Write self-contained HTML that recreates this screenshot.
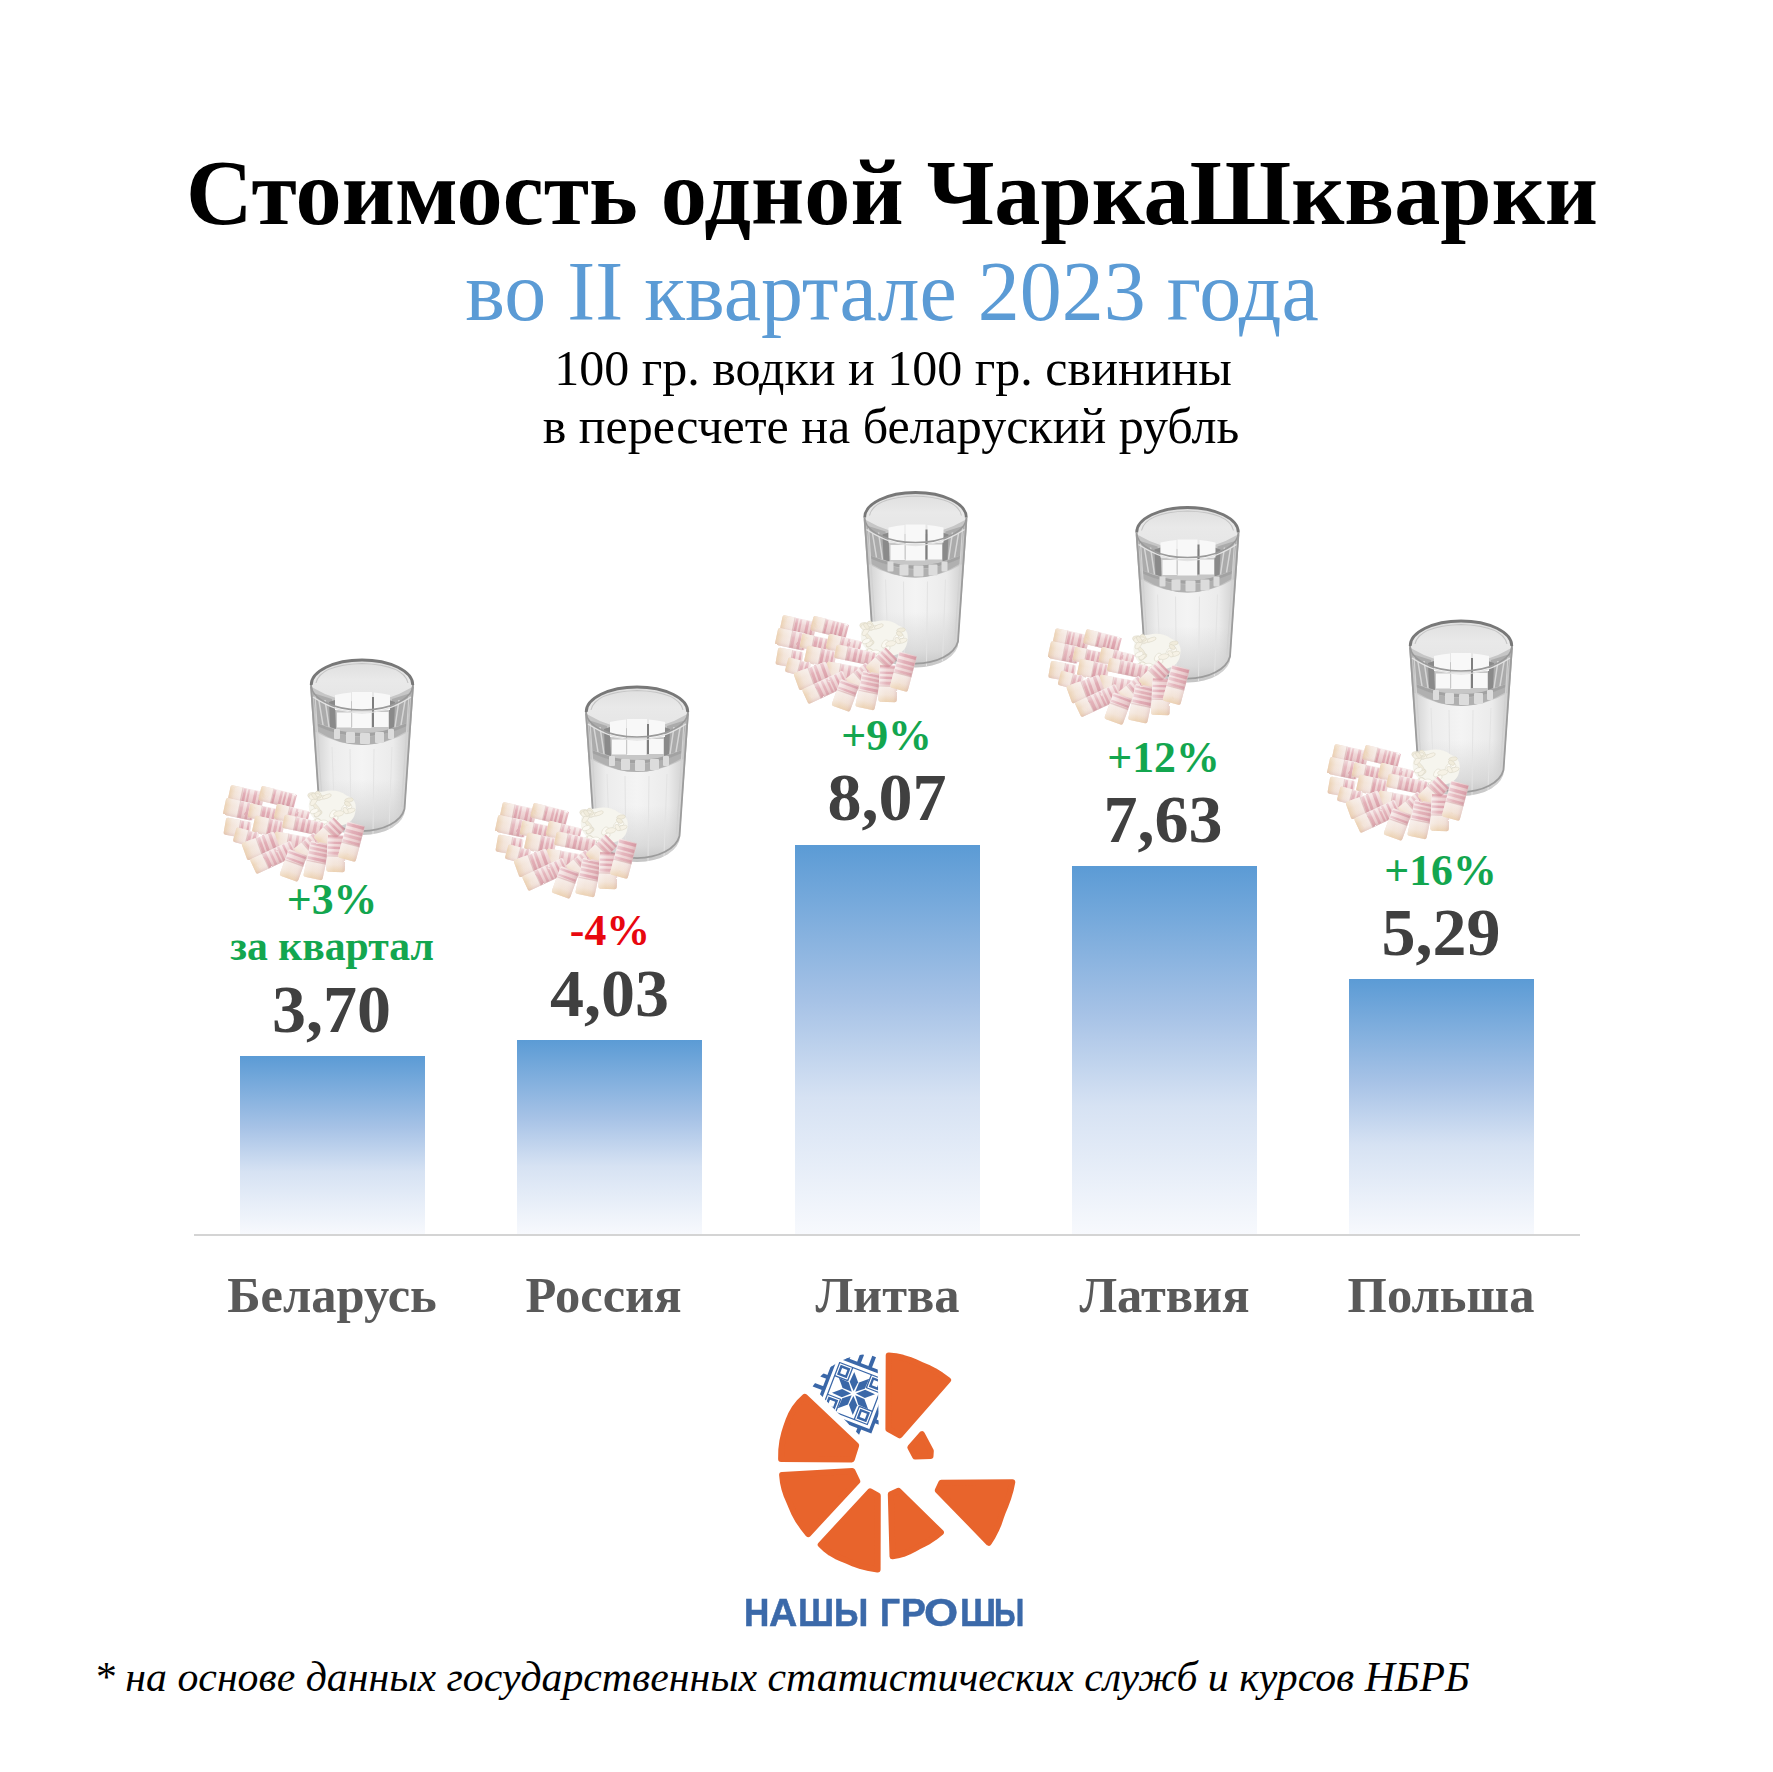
<!DOCTYPE html>
<html><head><meta charset="utf-8">
<style>
html,body{margin:0;padding:0;background:#fff;}
body{width:1773px;height:1772px;position:relative;overflow:hidden;font-family:"Liberation Serif",serif;}
.t{position:absolute;white-space:nowrap;line-height:1;}
.c{transform:translateX(-50%);}
.b{font-weight:bold;}
.bar{position:absolute;width:185px;bottom:538px;background:linear-gradient(#5b9bd5 0%,#a6c2e6 40%,#d6e2f3 65%,#f7f9fd 100%);}
.pct{font-size:43.8px;font-weight:bold;color:#13a64f;}
.val{font-size:68px;font-weight:bold;color:#404040;}
.lbl{font-size:50.5px;font-weight:bold;color:#595959;}
svg{position:absolute;left:0;top:0;}
.lg{top:1593px;font-family:"Liberation Sans",sans-serif;font-weight:bold;font-size:39px;color:#3b69a9;-webkit-text-stroke:0.5px #3b69a9;transform-origin:0 0;}
</style></head>
<body>
<div class="t b" style="left:186px;top:146.5px;font-size:92.3px;color:#000;">Стоимость одной ЧаркаШкварки</div>
<div class="t c" style="left:892px;top:250px;font-size:84px;color:#5b9bd5;">во II квартале 2023 года</div>
<div class="t c" style="left:893px;top:343px;font-size:50px;color:#000;">100 гр. водки и 100 гр. свинины</div>
<div class="t c" style="left:891px;top:401px;font-size:50px;color:#000;">в пересчете на беларуский рубль</div>

<div class="bar" style="left:240px;top:1056px;height:178px;"></div>
<div class="bar" style="left:517px;top:1040px;height:194px;"></div>
<div class="bar" style="left:795px;top:845px;height:389px;"></div>
<div class="bar" style="left:1072px;top:866px;height:368px;"></div>
<div class="bar" style="left:1349px;top:979px;height:255px;"></div>
<div style="position:absolute;left:194px;top:1234px;width:1386px;height:2px;background:#d4d4d4;"></div>

<div class="t c pct" style="left:332px;top:878px;">+3%</div>
<div class="t c pct" style="left:332px;top:926px;font-size:41.7px;">за квартал</div>
<div class="t c val" style="left:331.5px;top:975px;">3,70</div>
<div class="t c pct" style="left:610px;top:909px;color:#e8070f;">-4%</div>
<div class="t c val" style="left:609.5px;top:959px;">4,03</div>
<div class="t c pct" style="left:886.5px;top:714px;">+9%</div>
<div class="t c val" style="left:887px;top:763px;">8,07</div>
<div class="t c pct" style="left:1163.5px;top:735.5px;">+12%</div>
<div class="t c val" style="left:1163px;top:784.5px;">7,63</div>
<div class="t c pct" style="left:1440.5px;top:848.5px;">+16%</div>
<div class="t c val" style="left:1441px;top:898px;">5,29</div>

<div class="t c lbl" style="left:332px;top:1270px;">Беларусь</div>
<div class="t c lbl" style="left:603.5px;top:1270px;">Россия</div>
<div class="t c lbl" style="left:887.5px;top:1270px;">Литва</div>
<div class="t c lbl" style="left:1164.5px;top:1270px;">Латвия</div>
<div class="t c lbl" style="left:1441px;top:1270px;">Польша</div>

<div class="t" style="left:94px;top:1657px;font-size:41.8px;font-style:italic;color:#000;">* на основе данных государственных статистических служб и курсов НБРБ</div>

<div class="t lg" style="left:744.2px;transform:scaleX(0.900);">Н</div>
<div class="t lg" style="left:768.7px;transform:scaleX(1.004);">А</div>
<div class="t lg" style="left:797.7px;transform:scaleX(0.921);">Ш</div>
<div class="t lg" style="left:834.2px;transform:scaleX(0.897);">Ы</div>
<div class="t lg" style="left:879.9px;transform:scaleX(0.904);">Г</div>
<div class="t lg" style="left:900.9px;transform:scaleX(0.955);">Р</div>
<div class="t lg" style="left:924.4px;transform:scaleX(1.125);">О</div>
<div class="t lg" style="left:960.2px;transform:scaleX(0.921);">Ш</div>
<div class="t lg" style="left:994.3px;transform:scaleX(0.794);">Ы</div>

<svg width="1773" height="1772" viewBox="0 0 1773 1772"><defs>
<filter id="soft" x="-10%" y="-10%" width="120%" height="120%"><feGaussianBlur stdDeviation="0.7"/></filter>
<linearGradient id="gbody" x1="0" x2="1" y1="0" y2="0">
 <stop offset="0" stop-color="#a8a8a8"/><stop offset="0.06" stop-color="#d4d4d4"/><stop offset="0.2" stop-color="#ececec"/><stop offset="0.5" stop-color="#f4f4f4"/><stop offset="0.8" stop-color="#ebebeb"/><stop offset="0.94" stop-color="#d2d2d2"/><stop offset="1" stop-color="#a4a4a4"/>
</linearGradient>
<linearGradient id="gbot" x1="0" x2="0" y1="0" y2="1">
 <stop offset="0" stop-color="#c8c8c8" stop-opacity="0"/><stop offset="0.7" stop-color="#c8c8c8" stop-opacity="0.55"/><stop offset="1" stop-color="#b8b8b8" stop-opacity="0.8"/>
</linearGradient>
<linearGradient id="gtop" x1="0" x2="0" y1="0" y2="1">
 <stop offset="0" stop-color="#dedede"/><stop offset="0.4" stop-color="#e9e9e9"/><stop offset="1" stop-color="#e4e4e4"/>
</linearGradient>
<linearGradient id="bs0" gradientUnits="userSpaceOnUse" x1="0" y1="0" x2="12" y2="0" spreadMethod="repeat">
 <stop offset="0" stop-color="#d88a97" stop-opacity="0"/><stop offset="0.2" stop-color="#e2a4ad" stop-opacity="0.45"/><stop offset="0.45" stop-color="#d07a8a" stop-opacity="0.9"/><stop offset="0.62" stop-color="#e6b3ba" stop-opacity="0.6"/><stop offset="0.78" stop-color="#d88a97" stop-opacity="0.1"/><stop offset="1" stop-color="#d88a97" stop-opacity="0"/>
</linearGradient>
<linearGradient id="bs1" gradientUnits="userSpaceOnUse" x1="4" y1="0" x2="16" y2="0" spreadMethod="repeat">
 <stop offset="0" stop-color="#d88a97" stop-opacity="0"/><stop offset="0.25" stop-color="#dc98a2" stop-opacity="0.6"/><stop offset="0.4" stop-color="#d07a8a" stop-opacity="0.85"/><stop offset="0.55" stop-color="#efc9cd" stop-opacity="0.5"/><stop offset="0.7" stop-color="#d4848f" stop-opacity="0.8"/><stop offset="0.85" stop-color="#d88a97" stop-opacity="0.1"/><stop offset="1" stop-color="#d88a97" stop-opacity="0"/>
</linearGradient>
<linearGradient id="bs2" gradientUnits="userSpaceOnUse" x1="8" y1="0" x2="20" y2="0" spreadMethod="repeat">
 <stop offset="0" stop-color="#d88a97" stop-opacity="0.1"/><stop offset="0.2" stop-color="#d4848f" stop-opacity="0.85"/><stop offset="0.38" stop-color="#e4aab2" stop-opacity="0.45"/><stop offset="0.6" stop-color="#d88a97" stop-opacity="0.05"/><stop offset="0.8" stop-color="#d88a97" stop-opacity="0.7"/><stop offset="1" stop-color="#d88a97" stop-opacity="0.1"/>
</linearGradient>
<linearGradient id="bsh2" x1="0" x2="0" y1="0" y2="1">
 <stop offset="0" stop-color="#fff" stop-opacity="0.3"/><stop offset="0.4" stop-color="#fff" stop-opacity="0"/><stop offset="0.8" stop-color="#c89098" stop-opacity="0.06"/><stop offset="1" stop-color="#b88088" stop-opacity="0.22"/>
</linearGradient>
<linearGradient id="bend" x1="0" x2="1" y1="0" y2="0">
 <stop offset="0" stop-color="#ebcfa8" stop-opacity="0.9"/><stop offset="0.6" stop-color="#f2e0cc" stop-opacity="0.75"/><stop offset="1" stop-color="#f4e6dc" stop-opacity="0"/>
</linearGradient>
<linearGradient id="bface" x1="0" x2="1" y1="0" y2="0">
 <stop offset="0" stop-color="#ecd2b2"/><stop offset="0.45" stop-color="#f3e4d8"/><stop offset="1" stop-color="#f6ece8"/>
</linearGradient>
<linearGradient id="bwash" x1="0" x2="0" y1="0" y2="1">
 <stop offset="0" stop-color="#fff" stop-opacity="0.25"/><stop offset="0.5" stop-color="#e6b4bc" stop-opacity="0.25"/><stop offset="1" stop-color="#c98a94" stop-opacity="0.3"/>
</linearGradient>
<linearGradient id="bbase" x1="0" x2="0" y1="0" y2="1">
 <stop offset="0" stop-color="#f7eeec"/><stop offset="0.55" stop-color="#f1dcda"/><stop offset="1" stop-color="#edd6c8"/>
</linearGradient>
<linearGradient id="bsh" x1="0" x2="1" y1="0" y2="0">
 <stop offset="0" stop-color="#e8c89a" stop-opacity="0.35"/><stop offset="0.2" stop-color="#fff" stop-opacity="0"/><stop offset="1" stop-color="#fff" stop-opacity="0"/>
</linearGradient>
<filter id="wob" x="-10%" y="-10%" width="120%" height="120%">
 <feTurbulence type="fractalNoise" baseFrequency="0.1" numOctaves="2" seed="4" result="n"/>
 <feDisplacementMap in="SourceGraphic" in2="n" scale="1.8" xChannelSelector="R" yChannelSelector="G" result="d"/>
 <feGaussianBlur in="d" stdDeviation="0.45"/>
</filter>
<g id="gb">
 <path d="M0,26 L9,150 A43,26 0 0 0 95,150 L104,26 Z" fill="url(#gbody)"/>
 <path d="M7,120 L9,150 A43,26 0 0 0 95,150 L97,120 Z" fill="url(#gbot)"/>
 <g stroke="#e3e3e3" stroke-width="1" fill="none">
  <path d="M22,88 L25,170"/><path d="M40,90 L41,175"/><path d="M64,90 L63,175"/><path d="M82,88 L79,170"/>
 </g>
 <ellipse cx="52" cy="26" rx="50.8" ry="25" fill="url(#gtop)"/>
 <path d="M1.5,28 Q52,58 102.5,28 L100,72 Q52,100 4,72 Z" fill="#c6c6c6"/>
 <path d="M3,34 L22,40 L25,70 L7,64 Z" fill="#ababab"/>
 <path d="M101,34 L82,40 L80,70 L97,64 Z" fill="#ababab"/>
 <path d="M9,42 L13,66 M15,41 L19,68" stroke="#d6d6d6" stroke-width="1.5"/>
 <path d="M95,42 L91,66 M89,41 L85,68" stroke="#d6d6d6" stroke-width="1.5"/>
 <path d="M19,43 L25,41 L26,70 L20,68 Z" fill="#8a8a8a"/>
 <path d="M85,43 L79,41 L79,70 L84,68 Z" fill="#8a8a8a"/>
 <g fill="#f8f8f8">
  <path d="M25,36 Q33,34 41,33.5 L41,52 L25,51 Z"/><rect x="42" y="33" width="20" height="19.5"/><path d="M64,33.5 Q72,34 80,36 L80,51 L64,52 Z"/>
  <rect x="27" y="53.5" width="14.5" height="15"/><rect x="42" y="53" width="19.5" height="16"/><rect x="64" y="53" width="14.5" height="15"/>
 </g>
 <g fill="#7e7e7e">
  <rect x="62" y="38" width="2" height="30"/><rect x="41" y="52" width="1.2" height="16" fill="#c8c8c8"/>
 </g>
 <path d="M7,66 Q52,90 97,66 L97,72 Q52,100 7,72 Z" fill="#b0b0b0"/>
 <path d="M7,64 Q52,84 97,64 L97,67 Q52,88 7,67 Z" fill="#a2a2a2"/>
 <g fill="#dcdcdc">
  <rect x="24" y="70" width="6" height="10" rx="1"/><rect x="36" y="73" width="9" height="11" rx="1"/><rect x="50" y="74" width="10" height="11" rx="1"/><rect x="65" y="73" width="9" height="11" rx="1"/><rect x="78" y="70" width="6" height="10" rx="1"/>
 </g>
 <path d="M1.2,28 L9.5,150 A43,26 0 0 0 94.5,150 L102.8,28" fill="none" stroke="#9c9c9c" stroke-width="1.8"/>
 <path d="M5,36 L12.5,148 M99,36 L91.5,148" fill="none" stroke="#d2d2d2" stroke-width="1.2"/>
 <path d="M1.2,26 A50.8,25 0 0 1 102.8,26" fill="none" stroke="#787878" stroke-width="2.8"/>
 <path d="M1.2,26 A50.8,25 0 0 0 102.8,26" fill="none" stroke="#9a9a9a" stroke-width="1.6"/>
 <path d="M6,24 Q10,6 52,4.5 Q94,6 98,24" fill="none" stroke="#c4c4c4" stroke-width="1.1"/>
 <path d="M3,38 Q52,70 101,38" fill="none" stroke="#e4e4e4" stroke-width="1.4"/>
 </g>
<g id="bc"><g filter="url(#soft)" transform="translate(4,0)"><path d="M-6,140 Q-4,131 8,131 Q22,128 31,135 Q42,139 40,150 Q39,162 26,165 Q8,168 -1,159 Q-9,151 -6,140 Z" fill="#f6f5ee"/><ellipse cx="2.6" cy="153.4" rx="4.6" ry="2.2" transform="rotate(-34 2.6 153.4)" fill="#f1ecdc" stroke="#d9d5c5" stroke-width="0.5"/><ellipse cx="28.3" cy="147.9" rx="4.3" ry="1.9" transform="rotate(-60 28.3 147.9)" fill="#fdfcf7" stroke="#d9d5c5" stroke-width="0.5"/><ellipse cx="33.3" cy="145.3" rx="3.4" ry="2.5" transform="rotate(51 33.3 145.3)" fill="#fbf9f2" stroke="#d9d5c5" stroke-width="0.5"/><ellipse cx="13.5" cy="162.9" rx="4.9" ry="2.1" transform="rotate(-7 13.5 162.9)" fill="#fdfcf7" stroke="#d9d5c5" stroke-width="0.5"/><ellipse cx="17.6" cy="153.5" rx="4.6" ry="2.7" transform="rotate(-57 17.6 153.5)" fill="#fbf9f2" stroke="#d9d5c5" stroke-width="0.5"/><ellipse cx="1.0" cy="160.8" rx="4.1" ry="2.3" transform="rotate(-19 1.0 160.8)" fill="#f1ecdc" stroke="#d9d5c5" stroke-width="0.5"/><ellipse cx="2.0" cy="152.6" rx="4.2" ry="2.6" transform="rotate(-51 2.0 152.6)" fill="#f6f2e6" stroke="#d9d5c5" stroke-width="0.5"/><ellipse cx="4.3" cy="162.0" rx="5.2" ry="2.5" transform="rotate(32 4.3 162.0)" fill="#fbf9f2" stroke="#d9d5c5" stroke-width="0.5"/><ellipse cx="0.9" cy="146.8" rx="5.1" ry="1.8" transform="rotate(51 0.9 146.8)" fill="#f1ecdc" stroke="#d9d5c5" stroke-width="0.5"/><ellipse cx="7.7" cy="161.6" rx="4.3" ry="2.0" transform="rotate(-2 7.7 161.6)" fill="#fdfcf7" stroke="#d9d5c5" stroke-width="0.5"/><ellipse cx="-2.9" cy="134.9" rx="4.8" ry="2.8" transform="rotate(-0 -2.9 134.9)" fill="#f1ecdc" stroke="#d9d5c5" stroke-width="0.5"/><ellipse cx="-1.2" cy="150.6" rx="4.3" ry="2.3" transform="rotate(-22 -1.2 150.6)" fill="#fbf9f2" stroke="#d9d5c5" stroke-width="0.5"/><ellipse cx="3.2" cy="137.3" rx="3.9" ry="2.7" transform="rotate(-18 3.2 137.3)" fill="#fdfcf7" stroke="#d9d5c5" stroke-width="0.5"/><ellipse cx="5.8" cy="137.2" rx="5.3" ry="1.8" transform="rotate(-9 5.8 137.2)" fill="#f6f2e6" stroke="#d9d5c5" stroke-width="0.5"/><ellipse cx="23.3" cy="153.0" rx="5.2" ry="2.7" transform="rotate(-11 23.3 153.0)" fill="#f6f2e6" stroke="#d9d5c5" stroke-width="0.5"/><ellipse cx="34.5" cy="150.3" rx="5.2" ry="2.2" transform="rotate(-15 34.5 150.3)" fill="#f6f2e6" stroke="#d9d5c5" stroke-width="0.5"/><ellipse cx="33.5" cy="139.6" rx="4.4" ry="2.1" transform="rotate(-11 33.5 139.6)" fill="#f1ecdc" stroke="#d9d5c5" stroke-width="0.5"/><ellipse cx="-1.7" cy="140.9" rx="5.1" ry="2.4" transform="rotate(-56 -1.7 140.9)" fill="#f6f2e6" stroke="#d9d5c5" stroke-width="0.5"/><ellipse cx="2.8" cy="134.2" rx="3.8" ry="2.7" transform="rotate(58 2.8 134.2)" fill="#f1ecdc" stroke="#d9d5c5" stroke-width="0.5"/><ellipse cx="-2.0" cy="136.3" rx="4.6" ry="2.7" transform="rotate(-3 -2.0 136.3)" fill="#f6f2e6" stroke="#d9d5c5" stroke-width="0.5"/><ellipse cx="32.0" cy="143.3" rx="3.4" ry="2.0" transform="rotate(33 32.0 143.3)" fill="#f1ecdc" stroke="#d9d5c5" stroke-width="0.5"/><ellipse cx="19.2" cy="158.3" rx="3.8" ry="2.2" transform="rotate(-27 19.2 158.3)" fill="#fbf9f2" stroke="#d9d5c5" stroke-width="0.5"/><ellipse cx="11.3" cy="135.9" rx="4.8" ry="1.9" transform="rotate(-21 11.3 135.9)" fill="#f6f2e6" stroke="#d9d5c5" stroke-width="0.5"/><ellipse cx="30.1" cy="150.1" rx="3.6" ry="2.1" transform="rotate(55 30.1 150.1)" fill="#f6f2e6" stroke="#d9d5c5" stroke-width="0.5"/><ellipse cx="1.3" cy="134.9" rx="3.2" ry="1.6" transform="rotate(-6 1.3 134.9)" fill="#f6f2e6" stroke="#d9d5c5" stroke-width="0.5"/><ellipse cx="-1.1" cy="135.7" rx="3.7" ry="2.0" transform="rotate(53 -1.1 135.7)" fill="#f1ecdc" stroke="#d9d5c5" stroke-width="0.5"/></g>
 <g filter="url(#wob)"><g>
<g transform="translate(-65.1,135.2) rotate(12)"><rect x="-17.4" y="-7.3" width="34.7" height="14.6" rx="2.2" fill="#f2e0de"/><rect x="-3.8" y="-6.8" width="2.7" height="13.6" fill="#d893a0" fill-opacity="0.75"/><rect x="0.6" y="-6.8" width="2.0" height="13.6" fill="#d893a0" fill-opacity="0.66"/><rect x="7.0" y="-6.8" width="3.0" height="13.6" fill="#d893a0" fill-opacity="0.73"/><rect x="12.4" y="-6.8" width="2.2" height="13.6" fill="#d893a0" fill-opacity="0.68"/><rect x="-4.9" y="-7.3" width="22.3" height="14.6" fill="url(#bwash)"/><rect x="-17.4" y="-7.3" width="12.4" height="14.6" rx="2" fill="url(#bface)"/><rect x="-5.5" y="-7.3" width="1.2" height="14.6" fill="#d2a4a4" fill-opacity="0.5"/><rect x="-17.4" y="-7.3" width="34.7" height="14.6" rx="2.2" fill="url(#bsh2)"/></g>
<g transform="translate(-34.2,136.8) rotate(14)"><rect x="-17.9" y="-7.5" width="35.8" height="14.9" rx="2.2" fill="#f2e0de"/><rect x="-4.6" y="-7.0" width="2.1" height="13.9" fill="#d893a0" fill-opacity="0.80"/><rect x="2.0" y="-7.0" width="2.5" height="13.9" fill="#d893a0" fill-opacity="0.67"/><rect x="6.2" y="-7.0" width="2.1" height="13.9" fill="#d893a0" fill-opacity="0.82"/><rect x="10.5" y="-7.0" width="3.4" height="13.9" fill="#d893a0" fill-opacity="0.83"/><rect x="16.3" y="-7.0" width="2.2" height="13.9" fill="#d893a0" fill-opacity="0.64"/><rect x="-5.2" y="-7.5" width="23.1" height="14.9" fill="url(#bwash)"/><rect x="-17.9" y="-7.5" width="12.7" height="14.9" rx="2" fill="url(#bface)"/><rect x="-5.8" y="-7.5" width="1.2" height="14.9" fill="#d2a4a4" fill-opacity="0.5"/><rect x="-17.9" y="-7.5" width="35.8" height="14.9" rx="2.2" fill="url(#bsh2)"/></g>
<g transform="translate(-72.7,148.7) rotate(12)"><rect x="-14.6" y="-8.6" width="29.1" height="17.2" rx="2.2" fill="#f2e0de"/><rect x="0.8" y="-8.1" width="3.0" height="16.2" fill="#d893a0" fill-opacity="0.57"/><rect x="7.3" y="-8.1" width="2.6" height="16.2" fill="#d893a0" fill-opacity="0.68"/><rect x="12.9" y="-8.1" width="2.5" height="16.2" fill="#d893a0" fill-opacity="0.56"/><rect x="0.1" y="-8.6" width="14.5" height="17.2" fill="url(#bwash)"/><rect x="-14.6" y="-8.6" width="14.7" height="17.2" rx="2" fill="url(#bface)"/><rect x="-0.5" y="-8.6" width="1.2" height="17.2" fill="#d2a4a4" fill-opacity="0.5"/><rect x="-14.6" y="-8.6" width="29.1" height="17.2" rx="2.2" fill="url(#bsh2)"/></g>
<g transform="translate(-46.1,153.3) rotate(12)"><rect x="-16.8" y="-7.2" width="33.6" height="14.4" rx="2.2" fill="#f2e0de"/><rect x="-3.7" y="-6.7" width="3.4" height="13.4" fill="#d893a0" fill-opacity="0.75"/><rect x="1.3" y="-6.7" width="3.0" height="13.4" fill="#d893a0" fill-opacity="0.75"/><rect x="6.9" y="-6.7" width="2.5" height="13.4" fill="#d893a0" fill-opacity="0.70"/><rect x="12.0" y="-6.7" width="2.0" height="13.4" fill="#d893a0" fill-opacity="0.80"/><rect x="-4.6" y="-7.2" width="21.4" height="14.4" fill="url(#bwash)"/><rect x="-16.8" y="-7.2" width="12.2" height="14.4" rx="2" fill="url(#bface)"/><rect x="-5.2" y="-7.2" width="1.2" height="14.4" fill="#d2a4a4" fill-opacity="0.5"/><rect x="-16.8" y="-7.2" width="33.6" height="14.4" rx="2.2" fill="url(#bsh2)"/></g>
<g transform="translate(-19.9,154.6) rotate(14)"><rect x="-16.8" y="-7.8" width="33.6" height="15.5" rx="2.2" fill="#f2e0de"/><rect x="-2.7" y="-7.3" width="2.3" height="14.5" fill="#d893a0" fill-opacity="0.68"/><rect x="3.1" y="-7.3" width="2.1" height="14.5" fill="#d893a0" fill-opacity="0.71"/><rect x="9.2" y="-7.3" width="2.1" height="14.5" fill="#d893a0" fill-opacity="0.63"/><rect x="14.8" y="-7.3" width="2.1" height="14.5" fill="#d893a0" fill-opacity="0.69"/><rect x="-3.6" y="-7.8" width="20.4" height="15.5" fill="url(#bwash)"/><rect x="-16.8" y="-7.8" width="13.2" height="15.5" rx="2" fill="url(#bface)"/><rect x="-4.2" y="-7.8" width="1.2" height="15.5" fill="#d2a4a4" fill-opacity="0.5"/><rect x="-16.8" y="-7.8" width="33.6" height="15.5" rx="2.2" fill="url(#bsh2)"/></g>
<g transform="translate(-74,167.7) rotate(10)"><rect x="-12.9" y="-8.6" width="25.8" height="17.2" rx="2.2" fill="#f2e0de"/><rect x="2.8" y="-8.1" width="2.7" height="16.2" fill="#d893a0" fill-opacity="0.84"/><rect x="9.1" y="-8.1" width="2.2" height="16.2" fill="#d893a0" fill-opacity="0.83"/><rect x="1.8" y="-8.6" width="11.1" height="17.2" fill="url(#bwash)"/><rect x="-12.9" y="-8.6" width="14.7" height="17.2" rx="2" fill="url(#bface)"/><rect x="1.2" y="-8.6" width="1.2" height="17.2" fill="#d2a4a4" fill-opacity="0.5"/><rect x="-12.9" y="-8.6" width="25.8" height="17.2" rx="2.2" fill="url(#bsh2)"/></g>
<g transform="translate(-43.1,166.5) rotate(12)"><rect x="-15.1" y="-8.6" width="30.2" height="17.2" rx="2.2" fill="#f2e0de"/><rect x="0.0" y="-8.1" width="3.0" height="16.2" fill="#d893a0" fill-opacity="0.82"/><rect x="5.3" y="-8.1" width="3.1" height="16.2" fill="#d893a0" fill-opacity="0.65"/><rect x="10.6" y="-8.1" width="2.1" height="16.2" fill="#d893a0" fill-opacity="0.74"/><rect x="-0.5" y="-8.6" width="15.6" height="17.2" fill="url(#bwash)"/><rect x="-15.1" y="-8.6" width="14.7" height="17.2" rx="2" fill="url(#bface)"/><rect x="-1.1" y="-8.6" width="1.2" height="17.2" fill="#d2a4a4" fill-opacity="0.5"/><rect x="-15.1" y="-8.6" width="30.2" height="17.2" rx="2.2" fill="url(#bsh2)"/></g>
<g transform="translate(-8.4,164.8) rotate(12)"><rect x="-20.2" y="-6.9" width="40.3" height="13.8" rx="2.2" fill="#f2e0de"/><rect x="-7.6" y="-6.4" width="2.7" height="12.8" fill="#d893a0" fill-opacity="0.56"/><rect x="-1.6" y="-6.4" width="3.2" height="12.8" fill="#d893a0" fill-opacity="0.74"/><rect x="4.0" y="-6.4" width="2.7" height="12.8" fill="#d893a0" fill-opacity="0.74"/><rect x="10.4" y="-6.4" width="3.3" height="12.8" fill="#d893a0" fill-opacity="0.60"/><rect x="16.9" y="-6.4" width="2.4" height="12.8" fill="#d893a0" fill-opacity="0.83"/><rect x="-8.4" y="-6.9" width="28.6" height="13.8" fill="url(#bwash)"/><rect x="-20.2" y="-6.9" width="11.7" height="13.8" rx="2" fill="url(#bface)"/><rect x="-9.0" y="-6.9" width="1.2" height="13.8" fill="#d2a4a4" fill-opacity="0.5"/><rect x="-20.2" y="-6.9" width="40.3" height="13.8" rx="2.2" fill="url(#bsh2)"/></g>
<g transform="translate(-65.5,177) rotate(15)"><rect x="-11.8" y="-7.5" width="23.5" height="14.9" rx="2.2" fill="#f2e0de"/><rect x="1.7" y="-7.0" width="3.0" height="13.9" fill="#d893a0" fill-opacity="0.61"/><rect x="6.6" y="-7.0" width="3.0" height="13.9" fill="#d893a0" fill-opacity="0.76"/><rect x="0.9" y="-7.5" width="10.8" height="14.9" fill="url(#bwash)"/><rect x="-11.8" y="-7.5" width="12.7" height="14.9" rx="2" fill="url(#bface)"/><rect x="0.3" y="-7.5" width="1.2" height="14.9" fill="#d2a4a4" fill-opacity="0.5"/><rect x="-11.8" y="-7.5" width="23.5" height="14.9" rx="2.2" fill="url(#bsh2)"/></g>
<g transform="translate(-20.3,181.7) rotate(10)"><rect x="-17.4" y="-8.0" width="34.7" height="16.1" rx="2.2" fill="#f2e0de"/><rect x="-2.7" y="-7.5" width="2.6" height="15.1" fill="#d893a0" fill-opacity="0.62"/><rect x="4.2" y="-7.5" width="2.8" height="15.1" fill="#d893a0" fill-opacity="0.74"/><rect x="10.3" y="-7.5" width="3.1" height="15.1" fill="#d893a0" fill-opacity="0.68"/><rect x="-3.7" y="-8.0" width="21.0" height="16.1" fill="url(#bwash)"/><rect x="-17.4" y="-8.0" width="13.7" height="16.1" rx="2" fill="url(#bface)"/><rect x="-4.3" y="-8.0" width="1.2" height="16.1" fill="#d2a4a4" fill-opacity="0.5"/><rect x="-17.4" y="-8.0" width="34.7" height="16.1" rx="2.2" fill="url(#bsh2)"/></g>
<g transform="translate(-50.7,185.5) rotate(-20)"><rect x="-17.4" y="-9.2" width="34.7" height="18.4" rx="2.2" fill="#f2e0de"/><rect x="-0.9" y="-8.7" width="3.1" height="17.4" fill="#d893a0" fill-opacity="0.72"/><rect x="4.0" y="-8.7" width="3.0" height="17.4" fill="#d893a0" fill-opacity="0.72"/><rect x="10.8" y="-8.7" width="3.3" height="17.4" fill="#d893a0" fill-opacity="0.79"/><rect x="-1.7" y="-9.2" width="19.1" height="18.4" fill="url(#bwash)"/><rect x="-17.4" y="-9.2" width="15.6" height="18.4" rx="2" fill="url(#bface)"/><rect x="-2.3" y="-9.2" width="1.2" height="18.4" fill="#d2a4a4" fill-opacity="0.5"/><rect x="-17.4" y="-9.2" width="34.7" height="18.4" rx="2.2" fill="url(#bsh2)"/></g>
<g transform="translate(-3.8,187.2) rotate(-40)"><rect x="-14.6" y="-8.0" width="29.1" height="16.1" rx="2.2" fill="#f2e0de"/><rect x="0.0" y="-7.5" width="2.7" height="15.1" fill="#d893a0" fill-opacity="0.79"/><rect x="5.3" y="-7.5" width="2.5" height="15.1" fill="#d893a0" fill-opacity="0.64"/><rect x="10.3" y="-7.5" width="2.8" height="15.1" fill="#d893a0" fill-opacity="0.74"/><rect x="-0.9" y="-8.0" width="15.4" height="16.1" fill="url(#bwash)"/><rect x="-14.6" y="-8.0" width="13.7" height="16.1" rx="2" fill="url(#bface)"/><rect x="-1.5" y="-8.0" width="1.2" height="16.1" fill="#d2a4a4" fill-opacity="0.5"/><rect x="-14.6" y="-8.0" width="29.1" height="16.1" rx="2.2" fill="url(#bsh2)"/></g>
<g transform="translate(17.4,173.2) rotate(-45)"><rect x="-13.4" y="-8.6" width="26.9" height="17.2" rx="2.2" fill="#f2e0de"/><rect x="2.0" y="-8.1" width="3.0" height="16.2" fill="#d893a0" fill-opacity="0.67"/><rect x="7.2" y="-8.1" width="2.5" height="16.2" fill="#d893a0" fill-opacity="0.76"/><rect x="12.5" y="-8.1" width="2.4" height="16.2" fill="#d893a0" fill-opacity="0.76"/><rect x="1.2" y="-8.6" width="12.2" height="17.2" fill="url(#bwash)"/><rect x="-13.4" y="-8.6" width="14.7" height="17.2" rx="2" fill="url(#bface)"/><rect x="0.6" y="-8.6" width="1.2" height="17.2" fill="#d2a4a4" fill-opacity="0.5"/><rect x="-13.4" y="-8.6" width="26.9" height="17.2" rx="2.2" fill="url(#bsh2)"/></g>
<g transform="translate(-38,196.9) rotate(-25)"><rect x="-22.4" y="-8.0" width="44.8" height="16.1" rx="2.2" fill="#f2e0de"/><rect x="-8.2" y="-7.5" width="3.3" height="15.1" fill="#d893a0" fill-opacity="0.66"/><rect x="-2.1" y="-7.5" width="2.6" height="15.1" fill="#d893a0" fill-opacity="0.60"/><rect x="3.4" y="-7.5" width="2.3" height="15.1" fill="#d893a0" fill-opacity="0.65"/><rect x="7.2" y="-7.5" width="2.5" height="15.1" fill="#d893a0" fill-opacity="0.63"/><rect x="12.8" y="-7.5" width="2.3" height="15.1" fill="#d893a0" fill-opacity="0.83"/><rect x="18.8" y="-7.5" width="2.2" height="15.1" fill="#d893a0" fill-opacity="0.69"/><rect x="-8.7" y="-8.0" width="31.1" height="16.1" fill="url(#bwash)"/><rect x="-22.4" y="-8.0" width="13.7" height="16.1" rx="2" fill="url(#bface)"/><rect x="-9.3" y="-8.0" width="1.2" height="16.1" fill="#d2a4a4" fill-opacity="0.5"/><rect x="-22.4" y="-8.0" width="44.8" height="16.1" rx="2.2" fill="url(#bsh2)"/></g>
<g transform="translate(-18.2,205) rotate(-70)"><rect x="-14.0" y="-9.8" width="28.0" height="19.5" rx="2.2" fill="#f2e0de"/><rect x="4.0" y="-9.3" width="2.3" height="18.5" fill="#d893a0" fill-opacity="0.69"/><rect x="10.0" y="-9.3" width="2.3" height="18.5" fill="#d893a0" fill-opacity="0.71"/><rect x="2.6" y="-9.8" width="11.4" height="19.5" fill="url(#bwash)"/><rect x="-14.0" y="-9.8" width="16.6" height="19.5" rx="2" fill="url(#bface)"/><rect x="2.0" y="-9.8" width="1.2" height="19.5" fill="#d2a4a4" fill-opacity="0.5"/><rect x="-14.0" y="-9.8" width="28.0" height="19.5" rx="2.2" fill="url(#bsh2)"/></g>
<g transform="translate(5.1,199.9) rotate(-78)"><rect x="-18.5" y="-9.8" width="37.0" height="19.5" rx="2.2" fill="#f2e0de"/><rect x="-0.4" y="-9.3" width="2.9" height="18.5" fill="#d893a0" fill-opacity="0.75"/><rect x="5.0" y="-9.3" width="3.0" height="18.5" fill="#d893a0" fill-opacity="0.66"/><rect x="9.7" y="-9.3" width="2.7" height="18.5" fill="#d893a0" fill-opacity="0.66"/><rect x="14.4" y="-9.3" width="2.3" height="18.5" fill="#d893a0" fill-opacity="0.71"/><rect x="-1.9" y="-9.8" width="20.3" height="19.5" fill="url(#bwash)"/><rect x="-18.5" y="-9.8" width="16.6" height="19.5" rx="2" fill="url(#bface)"/><rect x="-2.5" y="-9.8" width="1.2" height="19.5" fill="#d2a4a4" fill-opacity="0.5"/><rect x="-18.5" y="-9.8" width="37.0" height="19.5" rx="2.2" fill="url(#bsh2)"/></g>
<g transform="translate(24.6,194) rotate(-88)"><rect x="-17.4" y="-9.2" width="34.7" height="18.4" rx="2.2" fill="#f2e0de"/><rect x="-0.3" y="-8.7" width="3.1" height="17.4" fill="#d893a0" fill-opacity="0.64"/><rect x="5.4" y="-8.7" width="2.5" height="17.4" fill="#d893a0" fill-opacity="0.81"/><rect x="10.5" y="-8.7" width="2.2" height="17.4" fill="#d893a0" fill-opacity="0.74"/><rect x="16.0" y="-8.7" width="3.1" height="17.4" fill="#d893a0" fill-opacity="0.67"/><rect x="-1.7" y="-9.2" width="19.1" height="18.4" fill="url(#bwash)"/><rect x="-17.4" y="-9.2" width="15.6" height="18.4" rx="2" fill="url(#bface)"/><rect x="-2.3" y="-9.2" width="1.2" height="18.4" fill="#d2a4a4" fill-opacity="0.5"/><rect x="-17.4" y="-9.2" width="34.7" height="18.4" rx="2.2" fill="url(#bsh2)"/></g>
<g transform="translate(39.8,181.3) rotate(-75)"><rect x="-18.5" y="-9.2" width="37.0" height="18.4" rx="2.2" fill="#f2e0de"/><rect x="-2.0" y="-8.7" width="2.6" height="17.4" fill="#d893a0" fill-opacity="0.66"/><rect x="3.2" y="-8.7" width="3.1" height="17.4" fill="#d893a0" fill-opacity="0.60"/><rect x="8.0" y="-8.7" width="3.4" height="17.4" fill="#d893a0" fill-opacity="0.71"/><rect x="14.5" y="-8.7" width="3.2" height="17.4" fill="#d893a0" fill-opacity="0.80"/><rect x="-2.8" y="-9.2" width="21.3" height="18.4" fill="url(#bwash)"/><rect x="-18.5" y="-9.2" width="15.6" height="18.4" rx="2" fill="url(#bface)"/><rect x="-3.4" y="-9.2" width="1.2" height="18.4" fill="#d2a4a4" fill-opacity="0.5"/><rect x="-18.5" y="-9.2" width="37.0" height="18.4" rx="2.2" fill="url(#bsh2)"/></g>
</g></g>
</g>
</defs><use href="#gb" transform="translate(310,659)"/><use href="#bc" transform="translate(311.5,660.5)"/><use href="#gb" transform="translate(585,686)"/><use href="#bc" transform="translate(583.5,677.5)"/><use href="#gb" transform="translate(863.5,491.5)"/><use href="#bc" transform="translate(863.5,490.5)"/><use href="#gb" transform="translate(1135.5,506.5)"/><use href="#bc" transform="translate(1136.3,503.7)"/><use href="#gb" transform="translate(1409,620)"/><use href="#bc" transform="translate(1415.5,619.5)"/><g fill="#e8642c" stroke="#e8642c" stroke-width="6" stroke-linejoin="round"><path d="M888.7,1355.5 L895.9,1356.3 L902.9,1357.8 L909.6,1359.9 L915.7,1362.4 L921.5,1364.9 L927.6,1367.5 L934.3,1370.9 L941.2,1375.1 L948.1,1380.1 L899.7,1435.3 L888.4,1429.2Z"/><path d="M921.9,1434.1 L910.3,1447.4 L915.2,1456.5 L930.5,1456.1 L930.8,1451.0Z"/><path d="M781.1,1459.1 L781.3,1449.6 L782.4,1440.9 L784.2,1433.2 L786.3,1426.5 L788.5,1420.2 L791.2,1414.0 L794.8,1407.8 L799.3,1402.1 L804.7,1396.8 L856.2,1445.4 L851.8,1459.4Z"/><path d="M782.1,1474.9 L852.3,1470.9 L857.3,1481.3 L808.2,1534.1 L802.7,1527.1 L798.0,1520.2 L794.2,1513.4 L791.4,1506.9 L789.0,1501.1 L786.5,1495.3 L784.4,1488.9 L782.9,1482.0 L782.1,1474.9Z"/><path d="M870.2,1491.4 L877.8,1495.7 L877.6,1569.6 L868.8,1568.1 L860.8,1566.1 L853.7,1563.7 L847.5,1561.1 L841.9,1558.8 L836.2,1556.2 L830.6,1553.0 L825.4,1549.2 L820.7,1544.7Z"/><path d="M890.8,1494.2 L898.5,1490.8 L940.9,1532.5 L934.7,1537.3 L928.7,1541.3 L923.0,1544.4 L918.0,1546.8 L913.5,1549.3 L908.6,1551.8 L903.4,1553.9 L898.0,1555.4 L892.5,1556.2Z"/><path d="M937.8,1490.3 L941.3,1482.7 L1012.3,1482.2 L1010.5,1490.5 L1008.2,1498.2 L1005.6,1505.3 L1003.0,1511.5 L1000.9,1517.3 L998.7,1523.7 L995.9,1530.2 L992.6,1536.6 L988.8,1542.8Z"/></g>
<clipPath id="oc"><path d="M812.5,1386.5 L816.8,1380.7 L821.3,1375.4 L826.3,1370.8 L831.5,1366.6 L837.1,1363.1 L843.0,1360.1 L849.2,1357.6 L855.8,1355.8 L862.7,1354.4 L869.9,1353.7 L877.5,1353.5 L878.8,1435.5 L866.0,1442.0Z"/></clipPath>
<g clip-path="url(#oc)" fill="#3a67a8" stroke="none">
 <g transform="translate(853.5,1393.5) rotate(21)">
  <rect x="-24" y="-24" width="48" height="48" fill="none" stroke="#3a67a8" stroke-width="1.3"/>
  <path d="M-31,-31 H31 V31 H-31 Z M-27.5,-27.5 V27.5 H27.5 V-27.5 Z" fill-rule="evenodd"/>
  <g fill="none" stroke="#3a67a8" stroke-width="1.3">
   <path d="M-24,-10 H-10 V-24 M10,-24 V-10 H24 M24,10 H10 V24 M-10,24 V10 H-24"/>
  </g>
  <g fill="none" stroke="#3a67a8" stroke-width="2.4">
   <rect x="-21" y="-21" width="8" height="8"/><rect x="13" y="-21" width="8" height="8"/><rect x="13" y="13" width="8" height="8"/><rect x="-21" y="13" width="8" height="8"/>
  </g>
  <g>
   <rect x="-20" y="-42" width="4" height="12"/><rect x="-8" y="-40" width="4" height="10"/><rect x="4" y="-42" width="4" height="12"/><rect x="16" y="-40" width="4" height="10"/>
   <rect x="-42" y="-20" width="12" height="4"/><rect x="-40" y="-8" width="10" height="4"/><rect x="-42" y="4" width="12" height="4"/><rect x="-40" y="16" width="10" height="4"/>
   <rect x="30" y="-20" width="12" height="4"/><rect x="30" y="-8" width="10" height="4"/><rect x="30" y="4" width="12" height="4"/><rect x="30" y="16" width="10" height="4"/>
   <rect x="-20" y="30" width="4" height="12"/><rect x="-8" y="30" width="4" height="10"/><rect x="4" y="30" width="4" height="12"/><rect x="16" y="30" width="4" height="10"/>
  </g>
 </g>
 <g transform="translate(853.5,1393.5) rotate(2)"><path transform="rotate(0)" d="M0,-2.5 L-4.2,-11.5 L0,-21.5 L4.2,-11.5 Z"/><path transform="rotate(45)" d="M0,-2.5 L-4.2,-11.5 L0,-21.5 L4.2,-11.5 Z"/><path transform="rotate(90)" d="M0,-2.5 L-4.2,-11.5 L0,-21.5 L4.2,-11.5 Z"/><path transform="rotate(135)" d="M0,-2.5 L-4.2,-11.5 L0,-21.5 L4.2,-11.5 Z"/><path transform="rotate(180)" d="M0,-2.5 L-4.2,-11.5 L0,-21.5 L4.2,-11.5 Z"/><path transform="rotate(225)" d="M0,-2.5 L-4.2,-11.5 L0,-21.5 L4.2,-11.5 Z"/><path transform="rotate(270)" d="M0,-2.5 L-4.2,-11.5 L0,-21.5 L4.2,-11.5 Z"/><path transform="rotate(315)" d="M0,-2.5 L-4.2,-11.5 L0,-21.5 L4.2,-11.5 Z"/></g>
</g></svg>
</body></html>
